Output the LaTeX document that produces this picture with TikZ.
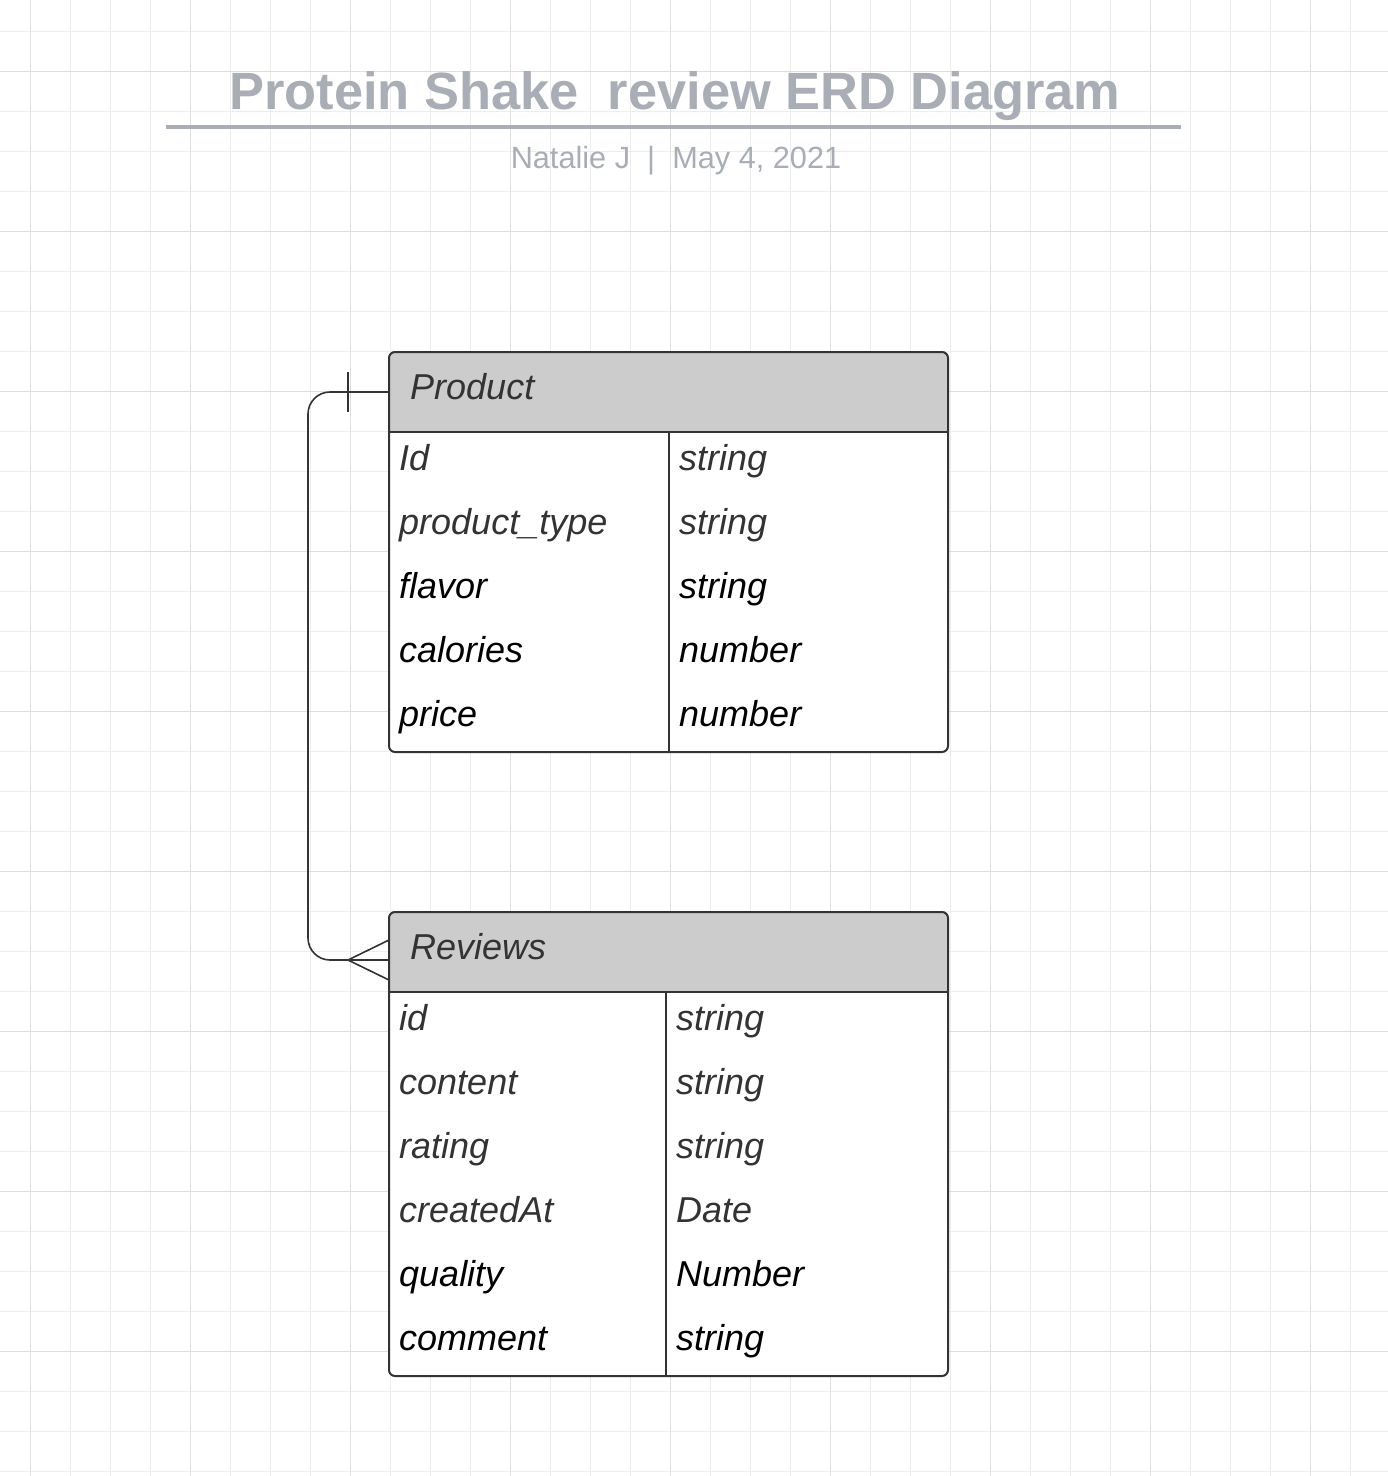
\documentclass[tikz,border=0pt]{standalone}
\usepackage{fontspec}
\setmainfont{Liberation Sans}
\definecolor{titlegray}{HTML}{A9ADB6}
\definecolor{ink}{HTML}{333333}
\definecolor{headgray}{HTML}{CCCCCC}
\definecolor{gridminor}{HTML}{EDEDED}
\definecolor{gridmajor}{HTML}{DEDEDE}
\tikzset{
  tbl/.style={fill=white,inner sep=0pt,outer sep=0pt,minimum width=559pt},
  hdr/.style={fill=headgray,inner sep=0pt,outer sep=0pt,minimum width=559pt,minimum height=80pt},
  edge/.style={draw=ink,line width=2pt},
  conn/.style={draw=ink,line width=1.6pt},
  field/.style={anchor=base west,inner sep=0pt,font=\fontsize{36}{40}\selectfont\itshape},
}
\begin{document}
\begin{tikzpicture}[x=1pt,y=-1pt]
\useasboundingbox (0,0) rectangle (1388,1476);
\fill[white] (0,0) rectangle (1388,1476);
% grid
\foreach \x in {30,70,...,1388} \draw[gridminor,line width=1pt] (\x,0) -- (\x,1476);
\foreach \y in {31,71,...,1476} \draw[gridminor,line width=1pt] (0,\y) -- (1388,\y);
\foreach \x in {30,190,...,1388} \draw[gridmajor,line width=1pt] (\x,0) -- (\x,1476);
\foreach \y in {71,231,...,1476} \draw[gridmajor,line width=1pt] (0,\y) -- (1388,\y);
% title
\node[anchor=base,inner sep=0pt,text=titlegray,font=\fontsize{52.4}{58}\selectfont\bfseries] (title) at (675,109) {Protein Shake\ \ review ERD Diagram};
\draw[titlegray,line width=4pt] (166,127) -- (1181,127);
\node[anchor=base,inner sep=0pt,text=titlegray,font=\fontsize{30.7}{34}\selectfont] (sub) at (676,168) {Natalie J\ \ |\ \ May 4, 2021};
% Product table
\node[tbl,minimum height=400pt,anchor=north west] (product) at (389,352) {};
\begin{scope}
\clip[rounded corners=6pt] (product.south west) rectangle (product.north east);
\node[hdr,anchor=north west] (phead) at (product.north west) {};
\end{scope}
\draw[edge,rounded corners=6pt] (product.south west) rectangle (product.north east);
\draw[edge] (phead.south west) -- (phead.south east);
\draw[edge] ([xshift=280pt]phead.south west) -- ([xshift=280pt]product.south west);
\node[field,text=ink] (ptitle) at (410,399) {Product};
\foreach \n/\t/\c [count=\i from 0] in {Id/string/ink,product\_type/string/ink,flavor/string/black,calories/number/black,price/number/black}{
  \node[field,text=\c] (pn\i) at (399,470+64*\i) {\n};
  \node[field,text=\c] (pt\i) at (679,470+64*\i) {\t};
}
% Reviews table
\node[tbl,minimum height=464pt,anchor=north west] (reviews) at (389,912) {};
\begin{scope}
\clip[rounded corners=6pt] (reviews.south west) rectangle (reviews.north east);
\node[hdr,anchor=north west] (rhead) at (reviews.north west) {};
\end{scope}
\draw[edge,rounded corners=6pt] (reviews.south west) rectangle (reviews.north east);
\draw[edge] (rhead.south west) -- (rhead.south east);
\draw[edge] ([xshift=277pt]rhead.south west) -- ([xshift=277pt]reviews.south west);
\node[field,text=ink] (rtitle) at (410,959) {Reviews};
\foreach \n/\t/\c [count=\i from 0] in {id/string/ink,content/string/ink,rating/string/ink,createdAt/Date/ink,quality/Number/black,comment/string/black}{
  \node[field,text=\c] (rn\i) at (399,1030+64*\i) {\n};
  \node[field,text=\c] (rt\i) at (676,1030+64*\i) {\t};
}
% relation: one Product to many Reviews
\coordinate (bend) at (308,0);
\coordinate (rfoot) at ([yshift=-8pt]rhead.west);
\draw[conn,rounded corners=22pt] (phead.west) -| (rfoot -| bend) -- (rfoot);
\draw[conn] ([xshift=-41pt,yshift=20pt]phead.west) -- ([xshift=-41pt,yshift=-20pt]phead.west);
\draw[conn] ([yshift=20pt]rfoot) -- ([xshift=-41pt]rfoot) -- ([yshift=-20pt]rfoot);
\end{tikzpicture}
\end{document}
